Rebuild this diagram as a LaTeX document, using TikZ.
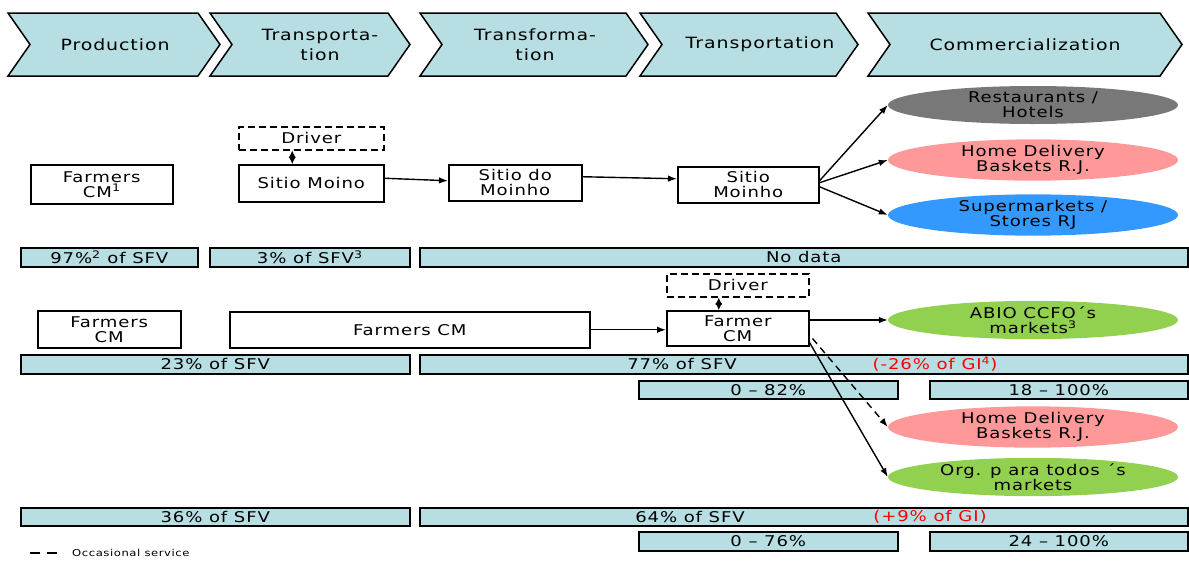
\documentclass[tikz,border=0pt]{standalone}
\usepackage{fontspec}
\setmainfont{DejaVu Sans}[FakeStretch=1.22,LetterSpace=6]
\usetikzlibrary{arrows.meta,shapes.geometric}
\definecolor{barblue}{RGB}{183,222,226}
\definecolor{restgray}{RGB}{120,120,120}
\definecolor{delivpink}{RGB}{255,153,153}
\definecolor{superblue}{RGB}{51,153,255}
\definecolor{mktgreen}{RGB}{146,208,80}
\definecolor{gired}{RGB}{255,0,0}
\begin{document}
\begin{tikzpicture}[x=1pt,y=-1pt,
  stage/.style={fill=barblue,draw=black,line width=1.5pt,line join=miter},
  stagetext/.style={font=\fontsize{15.5}{20}\selectfont,align=center,inner sep=0},
  actor/.style={draw=black,line width=1.5pt,fill=white,align=center,inner sep=0,
    anchor=north west,font=\fontsize{14.8}{15}\selectfont},
  helper/.style={actor,dash pattern=on 7pt off 4pt},
  market/.style={ellipse,minimum width=290pt,minimum height=38pt,inner sep=0,
    align=center,font=\fontsize{14.8}{15}\selectfont},
  share/.style={draw=black,fill=barblue,line width=1.5pt,inner sep=0,
    anchor=north west,font=\fontsize{14.8}{15}\selectfont},
  note/.style={inner sep=0,font=\fontsize{14.8}{15}\selectfont},
  flow/.style={-{Latex[length=9pt,width=6.5pt]},line width=1.4pt},
  diam/.style={{Latex[length=7pt,width=7pt]}-{Latex[length=7pt,width=7pt]},line width=1pt},
]
\useasboundingbox (0,0) rectangle (1189,560);

% value-chain stages
\foreach \l/\r in {8/198,210/388,420/626,640/836,868/1160}{
  \draw[stage] (\l,13) -- (\r,13) -- ({\r+22},44.5) -- (\r,76) -- (\l,76)
    -- ({\l+22},44.5) -- cycle;
}
\node[stagetext] (st1) at (115,44.5) {Production};
\node[stagetext] (st2) at (320,44.5) {Transporta-\\tion};
\node[stagetext] (st3) at (535,44.5) {Transforma-\\tion};
\node[stagetext] (st4) at (760,44.5) {Transportation};
\node[stagetext] (st5) at (1025,44.5) {Commercialization};

% first chain
\node[helper,minimum width=145pt,minimum height=23pt] (drv1) at (238,126) {Driver};
\node[actor,minimum width=142pt,minimum height=39pt] (fcm1) at (30,164) {Farmers\\CM\textsuperscript{1}};
\node[actor,minimum width=145pt,minimum height=37pt] (smo) at (238,164) {Sitio Moino};
\node[actor,minimum width=133pt,minimum height=36pt] (sdm) at (448,164) {Sitio do\\Moinho};
\node[actor,minimum width=141pt,minimum height=36pt] (smh) at (677,166) {Sitio\\Moinho};
\node[market,fill=restgray] (rest) at (1033,105) {Restaurants /\\Hotels};
\node[market,fill=delivpink] (hd1) at (1033,160) {Home Delivery\\Baskets R.J.};
\node[market,fill=superblue] (sup) at (1033,215) {Supermarkets /\\Stores RJ};

\node[share,minimum width=177pt,minimum height=19pt] (b97) at (20,247) {97\%\textsuperscript{2} of SFV};
\node[share,minimum width=200pt,minimum height=19pt] (b3) at (209,247) {3\% of SFV\textsuperscript{3}};
\node[share,minimum width=768pt,minimum height=19pt] (bnd) at (419,247) {No data};

% second chain
\node[helper,minimum width=142pt,minimum height=23pt] (drv2) at (666,273) {Driver};
\node[actor,minimum width=143pt,minimum height=37pt] (fcm2) at (37,310) {Farmers\\CM};
\node[actor,minimum width=360pt,minimum height=36pt] (fcmw) at (229,311) {Farmers CM};
\node[actor,minimum width=142pt,minimum height=35pt] (fmr) at (666,310) {Farmer\\CM};
\node[market,fill=mktgreen,minimum height=36pt] (abio) at (1033,320) {ABIO CCFO´s\\markets\textsuperscript{3}};
\node[market,fill=delivpink] (hd2) at (1033,427) {Home Delivery\\Baskets R.J.};
\node[market,fill=mktgreen] (org) at (1033,477) {Org. p ara todos ´s\\markets};

\node[share,minimum width=389pt,minimum height=19pt] (b23) at (20,354) {23\% of SFV};
\node[share,minimum width=768pt,minimum height=19pt] (b77) at (419,354) {};
\node[note] (t77) at (682,364) {77\% of SFV};
\node[note,text=gired] (gi1) at (935,364) {(-26\% of GI\textsuperscript{4})};
\node[share,minimum width=259pt,minimum height=18pt] (b082) at (638,380) {0 – 82\%};
\node[share,minimum width=258pt,minimum height=18pt] (b18) at (929,380) {18 – 100\%};

\node[share,minimum width=389pt,minimum height=18pt] (b36) at (20,507) {36\% of SFV};
\node[share,minimum width=768pt,minimum height=18pt] (b64) at (419,507) {};
\node[note] (t64) at (690,517) {64\% of SFV};
\node[note,text=gired] (gi2) at (930,517) {(+9\% of GI)};
\node[share,minimum width=259pt,minimum height=19pt] (b076) at (638,531) {0 – 76\%};
\node[share,minimum width=258pt,minimum height=19pt] (b24) at (929,531) {24 – 100\%};

% connectors
\draw[diam] ([xshift=-19pt]drv1.south) -- ([xshift=-19pt]smo.north);
\draw[flow] ([yshift=5pt]smo.east) -- ([yshift=2pt]sdm.west);
\draw[flow] ([yshift=6pt]sdm.east) -- ([yshift=6pt]smh.west);
\draw[flow] ([yshift=4pt]smh.east) -- (rest.west);
\draw[flow] ([yshift=2pt]smh.east) -- (hd1.west);
\draw[flow] ([yshift=-2pt]smh.east) -- (sup.west);

\draw[diam] ([xshift=-19pt]drv2.south) -- ([xshift=-19pt]fmr.north);
\draw[flow] (fcmw.east) -- (fcmw.east -| fmr.west);
\draw[flow] (fmr.east |- abio.west) -- (abio.west);
\draw[flow,dash pattern=on 7pt off 5pt] ([xshift=3pt,yshift=8pt]fmr.south east) -- (hd2.west);
\draw[flow] ([yshift=4pt]fmr.south east) -- (org.west);

% legend
\coordinate (lga) at (30,553);
\coordinate (lgb) at (60,553);
\draw[line width=1.3pt,dash pattern=on 10pt off 7pt] (lga) -- (lgb);
\node[anchor=west,inner sep=0,font=\fontsize{9.5}{10}\selectfont] (lgt) at (72,553) {Occasional service};
\end{tikzpicture}
\end{document}
